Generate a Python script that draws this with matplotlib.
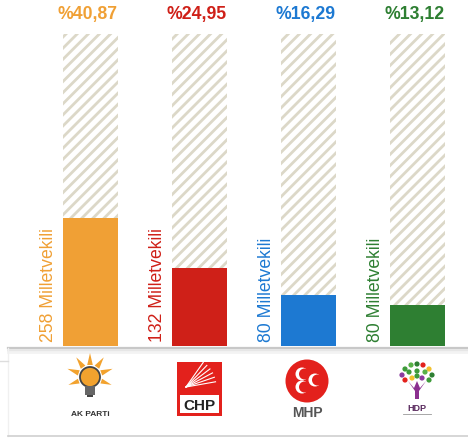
import numpy as np
import matplotlib.pyplot as plt
from matplotlib.patches import Rectangle, Circle, Polygon

plt.rcParams['font.family'] = ['Liberation Sans', 'DejaVu Sans']
plt.rcParams['hatch.linewidth'] = 2.0

parties = ['AK PARTi', 'CHP', 'MHP', 'HDP']
percent = [40.87, 24.95, 16.29, 13.12]
percent_labels = ['%40,87', '%24,95', '%16,29', '%13,12']
seats = [258, 132, 80, 80]
colors = ['#F0A035', '#CF2018', '#1D79D2', '#2E7F32']

W, H = 468, 439
fig = plt.figure(figsize=(W / 100, H / 100), dpi=100)

# bar area in pixels: top 35, bottom 347, first center 90.5, step 109
top_px, bot_px = 35, 347
c0, step = 90.5, 109.0
ax = fig.add_axes([0, (H - bot_px) / H, 1, (bot_px - top_px) / H])
ax.set_xlim(-c0 / step, (W - c0) / step)
ax.set_ylim(0, 100)
ax.axis('off')

x = np.arange(len(parties))
bw = 55 / step
ax.bar(x, [100] * len(x), width=bw, color='white', edgecolor='#DCD8C8',
       linewidth=0, hatch='///')
ax.bar(x, percent, width=bw, color=colors, linewidth=0)

px = 100 / (bot_px - top_px)  # data units per pixel (y)
for i in range(len(x)):
    ax.text(x[i] - bw / 2 - 6 / step, 1.6, f'{seats[i]} Milletvekili',
            rotation=90, ha='right', va='bottom', fontsize=12.7, color=colors[i])
    ax.text(x[i] - 3 / step, 100 + 21 * px, percent_labels[i], ha='center',
            va='center', fontsize=12.7, fontweight='bold', color=colors[i],
            clip_on=False)

# overlay in pixel coordinates for the logo panel
ov = fig.add_axes([0, 0, 1, 1], zorder=-1)
ov.set_xlim(0, W)
ov.set_ylim(H, 0)
ov.axis('off')
ov.plot([8, W], [348.5, 348.5], color='#C8C8C8', lw=1.6)
ov.plot([8, W], [350.5, 350.5], color='#E6E6E6', lw=2)
ov.plot([8, W], [352.5, 352.5], color='#F3F3F3', lw=2)
ov.plot([8, 8], [349, 437], color='#F0F0F0', lw=1)
ov.plot([0, 8], [362, 362], color='#DDDDDD', lw=1)
ov.plot([8, W], [437.5, 437.5], color='#CFCFCF', lw=1.2)

lg = fig.add_axes([0, 0, 1, 1], zorder=2)
lg.set_xlim(0, W)
lg.set_ylim(H, 0)
lg.axis('off')

# AK PARTi: light bulb with rays
cx, cy = 90, 381
for a in np.linspace(200, 340, 5):
    t = np.radians(a)
    tip = (cx + 24 * np.cos(t), cy - 3 + 24 * np.sin(t))
    n = np.array([-np.sin(t), np.cos(t)]) * 2.8
    base = np.array([cx + 12 * np.cos(t), cy - 3 + 12 * np.sin(t)])
    lg.add_patch(Polygon([tip, base + n, base - n], color='#F2A22E', lw=0))
for a in [160, 20]:
    t = np.radians(a)
    tip = (cx + 23 * np.cos(t), cy - 3 + 23 * np.sin(t))
    n = np.array([-np.sin(t), np.cos(t)]) * 2.5
    base = np.array([cx + 12 * np.cos(t), cy - 3 + 12 * np.sin(t)])
    lg.add_patch(Polygon([tip, base + n, base - n], color='#F2A22E', lw=0))
lg.add_patch(Circle((cx, cy - 3), 10, facecolor='#F2A22E', edgecolor='#444444', lw=1.3))
lg.add_patch(Rectangle((cx - 5, cy + 6), 10, 9, facecolor='#666666', lw=0))
lg.add_patch(Rectangle((cx - 3, cy + 15), 6, 2.5, facecolor='#444444', lw=0))
lg.text(cx, 415, 'AK PARTi', ha='center', va='center', fontsize=6,
        fontweight='bold', color='#333333')

# CHP: red square with white band
lg.add_patch(Rectangle((177, 363), 45, 54, facecolor='#E3211C', edgecolor='#E3211C', lw=0))
lg.add_patch(Rectangle((180, 396), 39, 18, facecolor='white', lw=0))
for k in range(6):
    ang = np.radians(-10 - k * 9)
    lg.plot([186, 186 + 30 * np.cos(ang)], [388, 388 + 30 * np.sin(ang)],
            color='white', lw=0.8)
lg.text(199.5, 406, 'CHP', ha='center', va='center', fontsize=11,
        fontweight='bold', color='#222222')

# MHP: red circle with three crescents
mx, my = 307, 382
lg.add_patch(Circle((mx, my), 21.5, color='#E3211C', lw=0))
for dx, dy in [(-5, -7), (-5, 6), (8, -1)]:
    lg.add_patch(Circle((mx + dx, my + dy), 6.5, color='white', lw=0))
    lg.add_patch(Circle((mx + dx + 2.5, my + dy), 5.5, color='#E3211C', lw=0))
lg.text(mx, 413, 'MHP', ha='center', va='center', fontsize=10,
        fontweight='bold', color='#555555')

# HDP: tree with leaves and purple hands
hx, hy = 417, 378
leaf_cols = ['#3E9B3A', '#58B047', '#2E7F32', '#E3211C', '#F2C12E', '#8B3A9E', '#3E9B3A']
pts = [(-12, -8), (-6, -12), (0, -13), (6, -12), (12, -8), (-15, -2), (-8, -5),
       (0, -6), (8, -5), (15, -2), (-12, 3), (-5, 1), (5, 1), (12, 3), (0, -1)]
for j, (dx, dy) in enumerate(pts):
    lg.add_patch(Circle((hx + dx, hy + dy), 2.6, color=leaf_cols[j % len(leaf_cols)], lw=0))
lg.add_patch(Polygon([(hx - 9, hy + 4), (hx - 2, hy + 14), (hx + 2, hy + 14),
                      (hx + 9, hy + 4), (hx + 3, hy + 11), (hx, hy + 4),
                      (hx - 3, hy + 11)], color='#8B2F8F', lw=0))
lg.add_patch(Rectangle((hx - 2, hy + 14), 4, 8, color='#8B2F8F', lw=0))
lg.text(hx, 409, 'HDP', ha='center', va='center', fontsize=6.5,
        fontweight='bold', color='#5A2A5E')
lg.plot([hx - 14, hx + 14], [415, 415], color='#999999', lw=0.6)

fig.savefig('out.png', dpi=100)
